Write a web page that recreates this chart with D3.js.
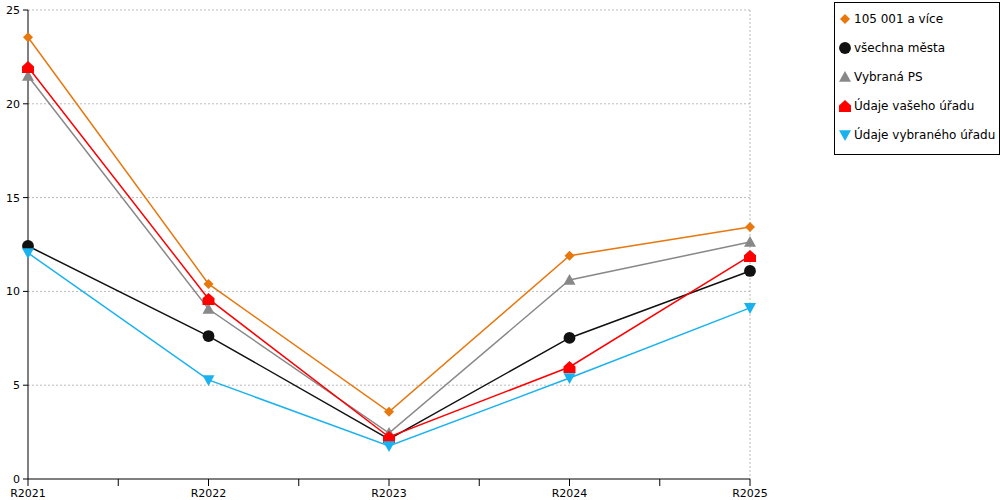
<!DOCTYPE html>
<html><head><meta charset="utf-8">
<script src="https://cdn.jsdelivr.net/npm/d3@7"></script>
<style>body{margin:0;background:#fff}text{font-family:"DejaVu Sans",Verdana,sans-serif}</style>
</head><body><svg id="c" width="1000" height="500"></svg>
<script>
const categories = ["R2021","R2022","R2023","R2024","R2025"];
const yTicks = [0,5,10,15,20,25];
const seriesNames = ["105 001 a více","všechna města","Vybraná PS","Údaje vašeho úřadu","Údaje vybraného úřadu"];
const seriesColors = ["#e8770e","#111111","#888888","#ff0000","#19b2ee"];
const seriesSymbols = ["diamond","circle","triangle","house","down"];
const orangeVals = [23.55,10.4,3.58,11.9,13.43];
const blackVals = [12.42,7.62,2.13,7.52,11.09];
const grayVals = [21.48,9.06,2.45,10.61,12.63];
const redVals = [21.96,9.6,2.24,5.97,11.89];
const blueVals = [12.05,5.28,1.76,5.38,9.12];
const allVals = [orangeVals,blackVals,grayVals,redVals,blueVals];

const svg = d3.select("#c");
const x = d3.scalePoint().domain(categories).range([28,750]);
const y = d3.scaleLinear().domain([0,25]).range([479,10]);

// grid
svg.selectAll(".g").data(yTicks.filter(d=>d>0)).join("line")
  .attr("x1",28).attr("x2",750).attr("y1",d=>y(d)).attr("y2",d=>y(d))
  .attr("stroke","#bbb").attr("stroke-dasharray","2,2");
svg.append("line").attr("x1",750).attr("x2",750).attr("y1",10).attr("y2",479)
  .attr("stroke","#bbb").attr("stroke-dasharray","2,2");

// axes
svg.append("line").attr("x1",28).attr("x2",28).attr("y1",10).attr("y2",479).attr("stroke","#000");
svg.append("line").attr("x1",28).attr("x2",750).attr("y1",479).attr("y2",479).attr("stroke","#000");
svg.selectAll(".yt").data(yTicks).join("line")
  .attr("x1",23).attr("x2",28).attr("y1",d=>y(d)).attr("y2",d=>y(d)).attr("stroke","#000");
svg.selectAll(".yl").data(yTicks).join("text")
  .attr("x",20).attr("y",d=>y(d)+4).attr("text-anchor","end").attr("font-size",11).text(d=>d);
const step = x.step();
const xt = [];
categories.forEach((c,i)=>{ xt.push(x(c)); if(i<categories.length-1) xt.push(x(c)+step/2); });
svg.selectAll(".xt").data(xt).join("line")
  .attr("x1",d=>d).attr("x2",d=>d).attr("y1",479).attr("y2",486).attr("stroke","#000");
svg.selectAll(".xl").data(categories).join("text")
  .attr("x",d=>x(d)).attr("y",497).attr("text-anchor","middle").attr("font-size",11).text(d=>d);

function symbolPath(type,s){
  if(type==="diamond") return `M0,${-s}L${s},0L0,${s}L${-s},0Z`;
  if(type==="circle") return d3.symbol(d3.symbolCircle,110)();
  if(type==="triangle") return `M0,${-s}L${s},${s*0.8}L${-s},${s*0.8}Z`;
  if(type==="down") return `M0,${s}L${s},${-s*0.8}L${-s},${-s*0.8}Z`;
  return `M0,${-s}L${s},${-s*0.1}L${s},${s}L${-s},${s}L${-s},${-s*0.1}Z`;
}
const line = d3.line().x((d,i)=>x(categories[i])).y(d=>y(d));
allVals.forEach((vals,k)=>{
  svg.append("path").attr("d",line(vals)).attr("fill","none")
    .attr("stroke",seriesColors[k]).attr("stroke-width",1.5);
  svg.selectAll(".m"+k).data(vals).join("path")
    .attr("transform",(d,i)=>`translate(${x(categories[i])},${y(d)})`)
    .attr("d",symbolPath(seriesSymbols[k],k===0?5:6)).attr("fill",seriesColors[k]);
});

// legend
svg.append("rect").attr("x",834.5).attr("y",2.5).attr("width",165).attr("height",152)
  .attr("fill","#fff").attr("stroke","#000");
seriesNames.forEach((n,k)=>{
  const ly = 19 + k*29;
  svg.append("path").attr("transform",`translate(845,${ly})`)
    .attr("d",symbolPath(seriesSymbols[k],k===0?5:6)).attr("fill",seriesColors[k]);
  svg.append("text").attr("x",854).attr("y",ly+4).attr("font-size",12).text(n);
});
</script></body></html>
